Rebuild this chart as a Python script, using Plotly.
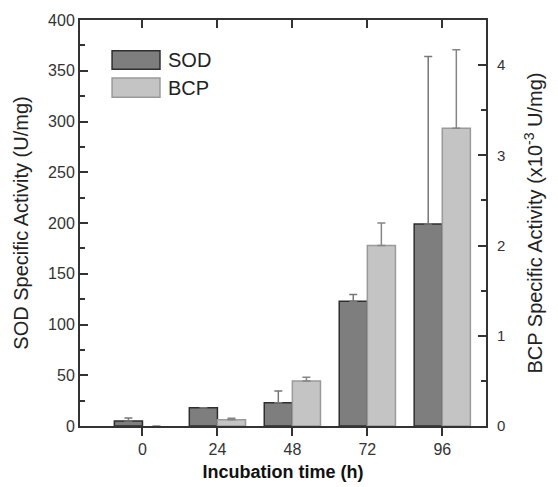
import plotly.graph_objects as go

# ---- data ----
times = [0, 24, 48, 72, 96]
tick_labels = ["0", "24", "48", "72", "96"]
sod_values = [5, 18, 23, 123, 199]
sod_errors = [3, None, 11.5, 6.5, 165]
bcp_values = [0, 0.07, 0.5, 2.0, 3.3]
bcp_errors = [None, 0.015, 0.04, 0.25, 0.87]
series_names = ["SOD", "BCP"]

SOD_FILL = "#7e7e7e"
SOD_LINE = "#2e2e2e"
BCP_FILL = "#c4c4c4"
BCP_LINE = "#9a9a9a"
AXIS = "#333333"
FONT = "Liberation Sans, Arial, sans-serif"

fig = go.Figure()

fig.add_trace(go.Bar(
    x=times, y=sod_values, name=series_names[0],
    width=9, offset=-9,
    marker=dict(color=SOD_FILL, line=dict(color=SOD_LINE, width=1.5)),
    error_y=dict(type="data", symmetric=False, array=sod_errors,
                 arrayminus=[0] * len(sod_errors), color="#777777",
                 thickness=1.5, width=4),
    xaxis="x", yaxis="y", showlegend=False,
))
fig.add_trace(go.Bar(
    x=times, y=bcp_values, name=series_names[1],
    width=9, offset=0,
    marker=dict(color=BCP_FILL,
                line=dict(color=BCP_LINE,
                          width=[0 if v == 0 else 1.5 for v in bcp_values])),
    error_y=dict(type="data", symmetric=False, array=bcp_errors,
                 arrayminus=[0] * len(bcp_errors), color="#858585",
                 thickness=1.5, width=4),
    xaxis="x2", yaxis="y2", showlegend=False,
))

# legend drawn as swatches + labels
legend_rows = [(series_names[0], SOD_FILL, SOD_LINE, 0.879, 0.924),
               (series_names[1], BCP_FILL, BCP_LINE, 0.810, 0.857)]
shapes = []
annotations = []
for name, fill, line, y0, y1 in legend_rows:
    shapes.append(dict(type="rect", xref="paper", yref="paper",
                       x0=0.079, x1=0.197, y0=y0, y1=y1,
                       fillcolor=fill, line=dict(color=line, width=1.5)))
    annotations.append(dict(text=name, xref="paper", yref="paper",
                            x=0.212, y=(y0 + y1) / 2, xanchor="left",
                            yanchor="middle", showarrow=False,
                            font=dict(size=20, color="#222222", family=FONT)))

# page body has an 8px margin, so the figure is sized to fit the window
fig.update_layout(
    width=550, height=479,
    margin=dict(l=72, r=72, t=12, b=61),
    paper_bgcolor="white", plot_bgcolor="white",
    barmode="overlay",
    font=dict(family=FONT, color="#222222"),
    shapes=shapes, annotations=annotations,
    xaxis=dict(
        range=[-20, 110], tickvals=times, ticktext=tick_labels,
        ticks="outside", ticklen=8, tickwidth=2, tickcolor=AXIS,
        showline=True, linecolor=AXIS, linewidth=2, mirror=True,
        showgrid=False, zeroline=False, automargin=False,
        tickfont=dict(size=16, color="#333333"),
        title=dict(text="<b>Incubation time (h)</b>",
                   font=dict(size=18, color="#111111"), standoff=8),
    ),
    xaxis2=dict(
        overlaying="x", side="top", matches="x", anchor="y",
        range=[-20, 110], tickvals=times, automargin=False,
        ticks="inside", ticklen=8, tickwidth=2, tickcolor=AXIS,
        showticklabels=False, showline=False, showgrid=False, zeroline=False,
    ),
    yaxis=dict(
        range=[0, 400], dtick=50, tick0=0, automargin=False,
        ticks="inside", ticklen=8, tickwidth=2, tickcolor=AXIS,
        minor=dict(ticks="inside", dtick=25, ticklen=5, tickwidth=1.5,
                   tickcolor=AXIS, showgrid=False),
        showline=True, linecolor=AXIS, linewidth=2,
        showgrid=False, zeroline=False,
        tickfont=dict(size=16, color="#333333"),
        title=dict(text="SOD Specific Activity (U/mg)",
                   font=dict(size=20, color="#222222"), standoff=14),
    ),
    yaxis2=dict(
        overlaying="y", side="right", anchor="x2", automargin=False,
        range=[0, 4.5], dtick=1, tick0=0, ticklabelstandoff=6,
        ticks="inside", ticklen=8, tickwidth=2, tickcolor=AXIS,
        minor=dict(ticks="inside", dtick=0.5, ticklen=5, tickwidth=1.5,
                   tickcolor=AXIS, showgrid=False),
        showline=True, linecolor=AXIS, linewidth=2,
        showgrid=False, zeroline=False,
        tickfont=dict(size=15, color="#333333"),
        title=dict(text="BCP Specific Activity (x10<sup>-3</sup> U/mg)",
                   font=dict(size=20, color="#222222"), standoff=24),
    ),
)

fig.write_html("out.html")
